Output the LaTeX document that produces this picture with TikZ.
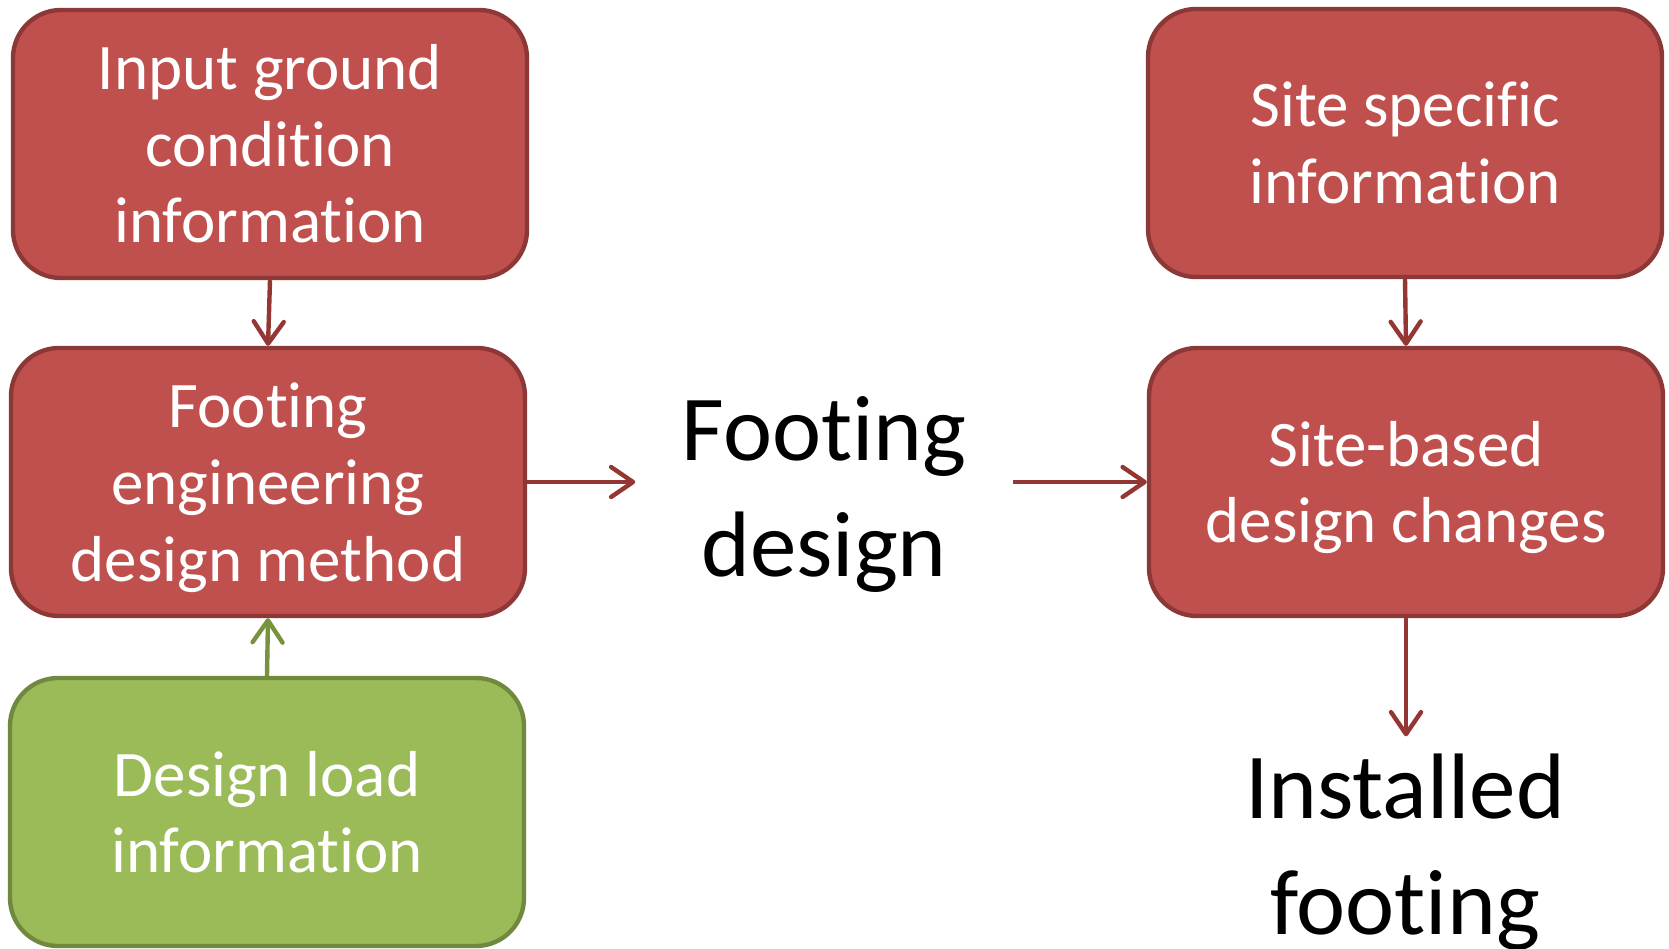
\documentclass[tikz,border=0pt]{standalone}
\usepackage{fontspec}
\setmainfont{Carlito}[RawFeature={-liga;-clig;-calt;-dlig}]
\usetikzlibrary{arrows.meta,calc}
\definecolor{redfill}{HTML}{C0504D}
\definecolor{redline}{HTML}{8C3836}
\definecolor{redarrow}{HTML}{943634}
\definecolor{greenfill}{HTML}{9BBB59}
\definecolor{greenline}{HTML}{71893F}
\definecolor{greenarrow}{HTML}{77933C}
\tikzset{
  box/.style={rectangle, rounded corners=24pt, line width=2.2pt, minimum width=257pt, minimum height=134pt,
    text=white, align=center, font=\fontsize{32.5pt}{38.3pt}\selectfont, inner sep=0pt},
  redbox/.style={box, fill=redfill, draw=redline},
  greenbox/.style={box, fill=greenfill, draw=greenline},
  bigtext/.style={align=center, font=\fontsize{46.5pt}{58pt}\selectfont, inner xsep=23pt, inner ysep=0pt},
  conn/.style={line width=2.2pt, -{Straight Barb[length=11pt,width=15pt,line cap=round,line join=round]}},
  redconn/.style={conn, draw=redarrow},
  greenconn/.style={conn, draw=greenarrow}
}
\begin{document}
\begin{tikzpicture}[x=0.5pt,y=-0.5pt]
\useasboundingbox (0,0) rectangle (1669,948);
\node[redbox] (b1) at (270,144) {Input ground\\condition\\information};
\node[redbox] (b2) at (268,482) {\rule{0pt}{28pt}Footing\\engineering\\design method};
\node[greenbox] (b3) at (267,812) {Design load\\information};
\node[redbox] (b4) at (1405,143) {Site specific\\information};
\node[redbox] (b5) at (1406,482) {\rule{0pt}{28pt}Site-based\\design changes};
\node[bigtext] (fd) at (824,494) {Footing\\design};
\node[bigtext, inner ysep=8.5pt] (inst) at (1405,852) {Installed\\footing};
\draw[redconn] (b1.south) -- (b2.north);
\draw[greenconn] (b3.north) -- (b2.south);
\draw[redconn] (b2.east) -- (fd.west |- b2.east);
\draw[redconn] (fd.east |- b5.west) -- (b5.west);
\draw[redconn] (b4.south) -- (b5.north);
\draw[redconn] (b5.south) -- (b5.south |- inst.north);
\end{tikzpicture}
\end{document}
